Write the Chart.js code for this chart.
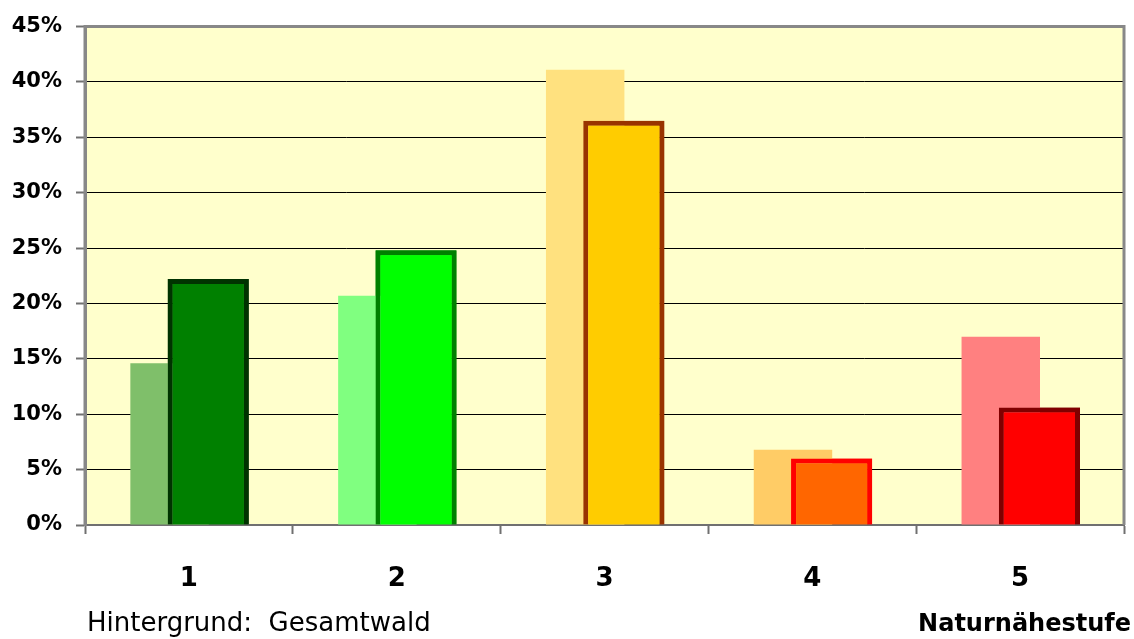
<!DOCTYPE html>
<html><head><meta charset="utf-8">
<script src="https://cdn.jsdelivr.net/npm/chart.js@4/dist/chart.umd.min.js"></script>
<style>html,body{margin:0;padding:0;background:#fff;} canvas{display:block;}</style>
</head><body>
<canvas id="c" width="1134" height="639"></canvas>
<script>
// ---- data ----
const categories = ['1', '2', '3', '4', '5'];
const gesamtwald = [14.6, 20.7, 41.1, 6.8, 17.0];   // background (light) bars
const auswahl = [22.2, 24.8, 36.5, 6.0, 10.6];      // foreground (outlined) bars
const yTickLabels = ['0%', '5%', '10%', '15%', '20%', '25%', '30%', '35%', '40%', '45%'];
const noteText = 'Hintergrund:  Gesamtwald';
const axisTitleText = 'Naturnähestufe';

// ---- styles ----
const lightColors = ['#7FBF6A', '#80FF80', '#FFE17F', '#FFCC66', '#FF8080'];
const fillColors = ['#008000', '#00FF00', '#FFCC00', '#FF6600', '#FF0000'];
const edgeColors = ['#003300', '#008000', '#993300', '#FF0000', '#800000'];
const FONT = "'DejaVu Sans', sans-serif";

const plotBg = {
  id: 'plotBg',
  beforeDraw(chart) {
    const {ctx, chartArea: a} = chart;
    ctx.save();
    ctx.fillStyle = '#FFFFCC';
    ctx.fillRect(a.left, a.top, a.right - a.left, a.bottom - a.top);
    ctx.restore();
  }
};

const frontBars = {
  id: 'frontBars',
  afterDatasetsDraw(chart) {
    const {ctx, chartArea: a} = chart;
    ctx.save();
    ctx.beginPath();
    ctx.rect(a.left, a.top - 5, a.right - a.left, a.bottom - a.top + 5);
    ctx.clip();
    chart.getDatasetMeta(1).controller.draw();
    ctx.restore();
  }
};

const frame = {
  id: 'frame',
  afterDraw(chart) {
    const {ctx, chartArea: a} = chart;
    ctx.save();
    ctx.strokeStyle = '#888888';
    ctx.lineWidth = 3;
    ctx.beginPath();
    ctx.moveTo(a.left, a.bottom);
    ctx.lineTo(a.left, a.top);
    ctx.lineTo(a.right, a.top);
    ctx.lineTo(a.right, a.bottom);
    ctx.stroke();
    ctx.fillStyle = '#000';
    ctx.textBaseline = 'alphabetic';
    ctx.font = '26px ' + FONT;
    ctx.textAlign = 'left';
    ctx.fillText(noteText, 87, 631);
    ctx.font = 'bold 24px ' + FONT;
    ctx.textAlign = 'right';
    ctx.fillText(axisTitleText, 1131, 631);
    ctx.restore();
  }
};

new Chart(document.getElementById('c'), {
  type: 'bar',
  data: {
    labels: categories,
    datasets: [
      {
        label: 'Gesamtwald',
        data: gesamtwald,
        backgroundColor: lightColors,
        borderWidth: 0,
        categoryPercentage: 0.372,
        barPercentage: 2.03
      },
      {
        label: 'Auswahl',
        data: auswahl,
        backgroundColor: fillColors,
        borderColor: edgeColors,
        borderWidth: 5,
        categoryPercentage: 0.372,
        barPercentage: 2.1
      }
    ]
  },
  options: {
    responsive: false,
    devicePixelRatio: 1,
    animation: false,
    layout: {padding: {left: 0, top: 26, right: 10, bottom: 44}},
    plugins: {legend: {display: false}, tooltip: {enabled: false}},
    scales: {
      x: {
        type: 'category',
        offset: true,
        afterFit(s) { s.height = 70; },
        grid: {
          offset: true,
          drawOnChartArea: false,
          drawTicks: true,
          tickLength: 9,
          tickColor: '#707070',
          tickWidth: 2
        },
        border: {display: true, color: '#707070', width: 2},
        ticks: {
          color: '#000',
          padding: 30,
          font: {family: FONT, size: 26, weight: 'bold'}
        }
      },
      y: {
        min: 0,
        max: 45,
        afterFit(s) { s.width = 85; },
        ticks: {
          stepSize: 5,
          color: '#000',
          padding: 14,
          font: {family: FONT, size: 21, weight: 'bold'},
          callback: (v, i) => yTickLabels[i]
        },
        grid: {
          color: (c) => (c.tick && (c.tick.value === 0 || c.tick.value === 45)) ? 'rgba(0,0,0,0)' : '#000000',
          lineWidth: 1,
          tickLength: 9,
          tickColor: '#707070',
          tickWidth: 2
        },
        border: {display: true, color: '#888888', width: 3}
      }
    }
  },
  plugins: [plotBg, frontBars, frame]
});
</script>
</body></html>
